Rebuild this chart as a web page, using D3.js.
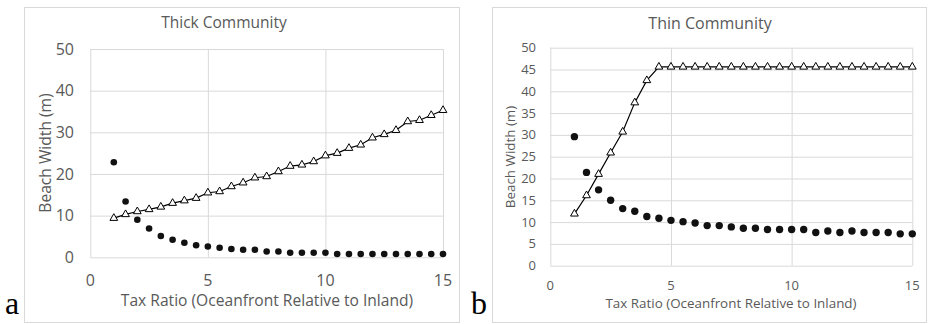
<!DOCTYPE html>
<html>
<head>
<meta charset="utf-8">
<script src="https://cdn.jsdelivr.net/npm/d3@7"></script>
<style>
  body { margin: 0; background: #fff; }
  text { font-family: "Open Sans", sans-serif; fill: #595959; }
  .panel-label { font-family: "Liberation Serif", "DejaVu Serif", serif; fill: #000; }
</style>
</head>
<body>
<svg id="chart" width="928" height="324"></svg>
<script>
// tax ratio values (x) shared by both panels
var taxRatio = d3.range(1, 15.01, 0.5);

// panel a - thick community
var thickTriangles = [9.4, 10.3, 11.0, 11.5, 12.1, 13.0, 13.6, 14.2, 15.5, 15.8,
                      17.0, 17.9, 19.1, 19.4, 20.6, 21.9, 22.2, 23.0, 24.4, 25.0,
                      26.2, 27.0, 28.7, 29.5, 30.5, 32.6, 32.9, 34.1, 35.3];
var thickDots = [22.8, 13.4, 9.0, 6.9, 5.1, 4.2, 3.5, 2.9, 2.6, 2.3,
                 2.0, 1.8, 1.8, 1.4, 1.4, 1.1, 1.1, 1.1, 1.1, 0.8,
                 0.8, 0.8, 0.8, 0.8, 0.8, 0.8, 0.8, 0.8, 0.8];

// panel b - thin community
var thinTriangles = [11.9, 16.1, 21.0, 25.9, 30.7, 37.4, 42.5, 45.6, 45.6, 45.6,
                     45.6, 45.6, 45.6, 45.6, 45.6, 45.6, 45.6, 45.6, 45.6, 45.6,
                     45.6, 45.6, 45.6, 45.6, 45.6, 45.6, 45.6, 45.6, 45.6];
var thinDots = [29.6, 21.4, 17.4, 15.0, 13.1, 12.5, 11.3, 10.9, 10.4, 10.1,
                9.8, 9.2, 9.2, 8.9, 8.6, 8.6, 8.3, 8.3, 8.3, 8.3,
                7.6, 7.95, 7.6, 7.95, 7.6, 7.6, 7.6, 7.3, 7.3];

var xTicks = [0, 5, 10, 15];
var thickYTicks = [0, 10, 20, 30, 40, 50];
var thinYTicks = [0, 5, 10, 15, 20, 25, 30, 35, 40, 45, 50];

var svg = d3.select("#chart");

function panel(cfg) {
    var g = svg.append("g");

    // marco del grafico
    g.append("rect")
        .attr("x", cfg.box[0] + 0.5).attr("y", cfg.box[1] + 0.5)
        .attr("width", cfg.box[2] - cfg.box[0]).attr("height", cfg.box[3] - cfg.box[1])
        .attr("fill", "#fff").attr("stroke", "#d9d9d9").attr("stroke-width", 1);

    var x = d3.scaleLinear().domain([0, 15]).range([cfg.plot[0], cfg.plot[1]]);
    var y = d3.scaleLinear().domain([0, 50]).range([cfg.plot[2], cfg.plot[3]]);

    // cuadricula
    g.append("g")
        .attr("transform", "translate(0," + cfg.plot[2] + ")")
        .call(d3.axisBottom(x).tickValues(xTicks).tickSize(cfg.plot[3] - cfg.plot[2]).tickFormat(""))
        .call(function(s) { s.select(".domain").remove(); })
        .selectAll("line").attr("stroke", "#d9d9d9");

    g.append("g")
        .attr("transform", "translate(" + cfg.plot[0] + ",0)")
        .call(d3.axisLeft(y).tickValues(cfg.yTicks).tickSize(cfg.plot[0] - cfg.plot[1]).tickFormat(""))
        .call(function(s) { s.select(".domain").remove(); })
        .selectAll("line").attr("stroke", "#d9d9d9");

    // etiquetas de los ejes
    g.append("g").selectAll("text")
        .data(cfg.yTicks).join("text")
        .attr("x", cfg.yLabelX)
        .attr("y", function(d) { return y(d); })
        .attr("dy", "0.35em")
        .attr("text-anchor", "end")
        .style("font-size", cfg.tickSize + "px")
        .text(function(d) { return d; });

    g.append("g").selectAll("text")
        .data(xTicks).join("text")
        .attr("x", function(d) { return x(d); })
        .attr("y", cfg.xLabelY)
        .attr("text-anchor", "middle")
        .style("font-size", cfg.tickSize + "px")
        .text(function(d) { return d; });

    // titulo
    g.append("text")
        .attr("x", cfg.titleX).attr("y", cfg.titleY)
        .attr("text-anchor", "middle")
        .style("font-size", cfg.titleSize + "px")
        .text(cfg.title);

    g.append("text")
        .attr("x", cfg.xTitle[0]).attr("y", cfg.xTitle[1])
        .attr("text-anchor", "middle")
        .style("font-size", cfg.axisTitleSize + "px")
        .text("Tax Ratio (Oceanfront Relative to Inland)");

    g.append("text")
        .attr("transform", "translate(" + cfg.yTitle[0] + "," + cfg.yTitle[1] + ") rotate(-90)")
        .attr("text-anchor", "middle")
        .style("font-size", cfg.axisTitleSize + "px")
        .text("Beach Width (m)");

    // datos
    var pts = taxRatio.map(function(t, i) { return {x: t, tri: cfg.triangles[i], dot: cfg.dots[i]}; });

    var line = d3.line()
        .x(function(d) { return x(d.x); })
        .y(function(d) { return y(d.tri); });

    g.append("path")
        .datum(pts)
        .attr("d", line)
        .attr("fill", "none")
        .attr("stroke", "#000")
        .attr("stroke-width", 1.2);

    g.append("g").selectAll("path")
        .data(pts).join("path")
        .attr("transform", function(d) { return "translate(" + x(d.x) + "," + y(d.tri) + ")"; })
        .attr("d", d3.symbol().type(d3.symbolTriangle).size(cfg.triSize))
        .attr("fill", "#fff")
        .attr("stroke", "#000")
        .attr("stroke-width", 1);

    g.append("g").selectAll("circle")
        .data(pts).join("circle")
        .attr("cx", function(d) { return x(d.x); })
        .attr("cy", function(d) { return y(d.dot); })
        .attr("r", cfg.dotR)
        .attr("fill", "#111");

    svg.append("text")
        .attr("class", "panel-label")
        .attr("x", cfg.label[0]).attr("y", cfg.label[1])
        .style("font-size", "32px")
        .text(cfg.labelText);
}

panel({
    box: [24, 7, 459, 322],
    plot: [90.3, 443, 257.3, 49],
    yTicks: thickYTicks,
    triangles: thickTriangles, dots: thickDots,
    title: "Thick Community", titleX: 224, titleY: 28,
    yLabelX: 74, xLabelY: 286,
    xTitle: [267, 306], yTitle: [51, 153],
    tickSize: 16, titleSize: 15.5, axisTitleSize: 15.6,
    triSize: 26, dotR: 3.3,
    label: [5, 314], labelText: "a"
});

panel({
    box: [492, 7, 926, 322],
    plot: [550.3, 912.3, 265.7, 47.7],
    yTicks: thinYTicks,
    triangles: thinTriangles, dots: thinDots,
    title: "Thin Community", titleX: 710, titleY: 29,
    yLabelX: 536, xLabelY: 290,
    xTitle: [731, 308], yTitle: [515, 157],
    tickSize: 13, titleSize: 16, axisTitleSize: 13.4,
    triSize: 26, dotR: 3.7,
    label: [471, 314], labelText: "b"
});
</script>
</body>
</html>
